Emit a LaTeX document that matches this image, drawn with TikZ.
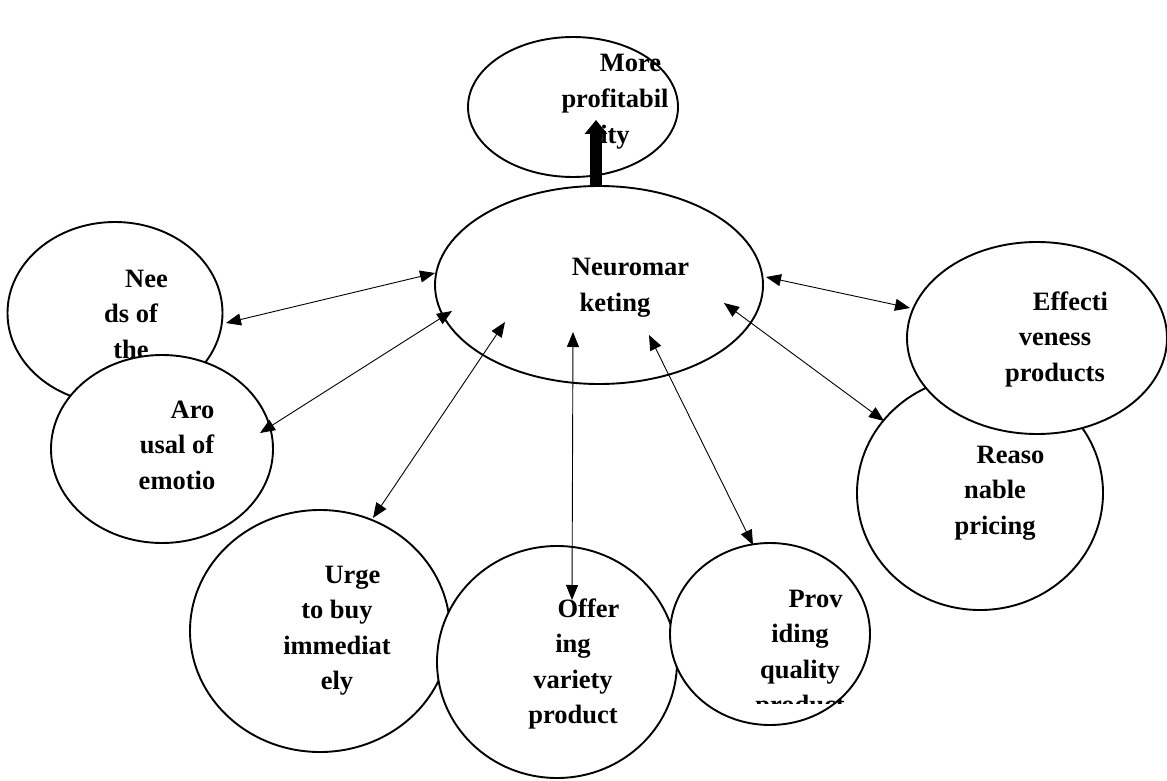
\documentclass[tikz,border=0pt]{standalone}
\usepackage{fontspec}
\setmainfont{Liberation Serif}
\usetikzlibrary{shapes.geometric,arrows.meta,calc}
\tikzset{
  bub/.style={ellipse, draw, line width=1.9pt, fill=white, inner sep=0pt},
  lbl/.style={font=\fontsize{26.5}{35.5}\selectfont\bfseries, align=center, anchor=base, inner sep=0pt},
  link/.style={{Triangle[length=15pt,width=12pt]}-{Triangle[length=15pt,width=12pt]}, line width=0.9pt},
  bigarrow/.style={-{Triangle[length=14pt,width=22pt]}, line width=12pt}
}
\newcommand{\ind}{\hspace*{31pt}}
\begin{document}
\begin{tikzpicture}[x=1pt,y=-1pt]
\useasboundingbox (0,0) rectangle (1167,781);
% top ellipse
\node[bub, minimum width=210pt, minimum height=140pt] (more) at (573,107) {};
\node[lbl] (tmore) at (615,143) {\ind More\\profitabil\\ity};
\draw[bigarrow] ($(more)+(23,80)$) -- ($(more)+(23,13)$);
% centre
\node[bub, minimum width=328pt, minimum height=198pt] (neuro) at (599,285) {};
\node[lbl] (tneuro) at (615,311) {\ind Neuromar\\keting};
% left
\node[bub, minimum width=215pt, minimum height=182pt] (needs) at (115,313) {};
\node[lbl] (tneeds) at (131,358) {\ind Nee\\ds of\\the};
\node[bub, minimum width=222pt, minimum height=188pt] (arousal) at (162,449) {};
\node[lbl] (tarousal) at (177,489) {\ind Aro\\usal of\\emotio};
% bottom
\node[bub, minimum width=260pt, minimum height=242pt] (urge) at (320,631) {};
\node[lbl] (turge) at (337,689.5) {\ind Urge\\to buy\\immediat\\ely};
\node[bub, minimum width=240pt, minimum height=232pt] (offering) at (557,662) {};
\node[lbl] (toffering) at (573,723.5) {\ind Offer\\ing\\variety\\product};
\node[bub, minimum width=200pt, minimum height=182pt] (providing) at (770,634) {};
\begin{scope}
  \clip (660,560) rectangle (880,703);
  \node[lbl] (tproviding) at (800,713.5) {\ind Prov\\iding\\quality\\product};
\end{scope}
% right
\node[bub, minimum width=246pt, minimum height=234pt] (reasonable) at (980,493) {};
\node[lbl] (treasonable) at (995,534) {\ind Reaso\\nable\\pricing};
\node[bub, minimum width=260pt, minimum height=192pt] (effect) at (1037,338) {};
\node[lbl] (teffect) at (1055,381) {\ind Effecti\\veness\\products};
% connectors
\draw[link] ($(needs)+(111,10)$) -- ($(neuro)+(-164,-12)$);
\draw[link] ($(arousal)+(98,-16)$) -- ($(neuro)+(-147,26)$);
\draw[link] ($(urge)+(53,-113)$) -- ($(neuro)+(-94,37)$);
\draw[link] ($(offering)+(15,-62)$) -- ($(neuro)+(-26,47)$);
\draw[link] ($(providing)+(-17,-89)$) -- ($(neuro)+(50,50)$);
\draw[link] ($(reasonable)+(-96,-72)$) -- ($(neuro)+(125,18)$);
\draw[link] ($(effect)+(-127,-30)$) -- ($(neuro)+(167,-8)$);
\end{tikzpicture}
\end{document}
